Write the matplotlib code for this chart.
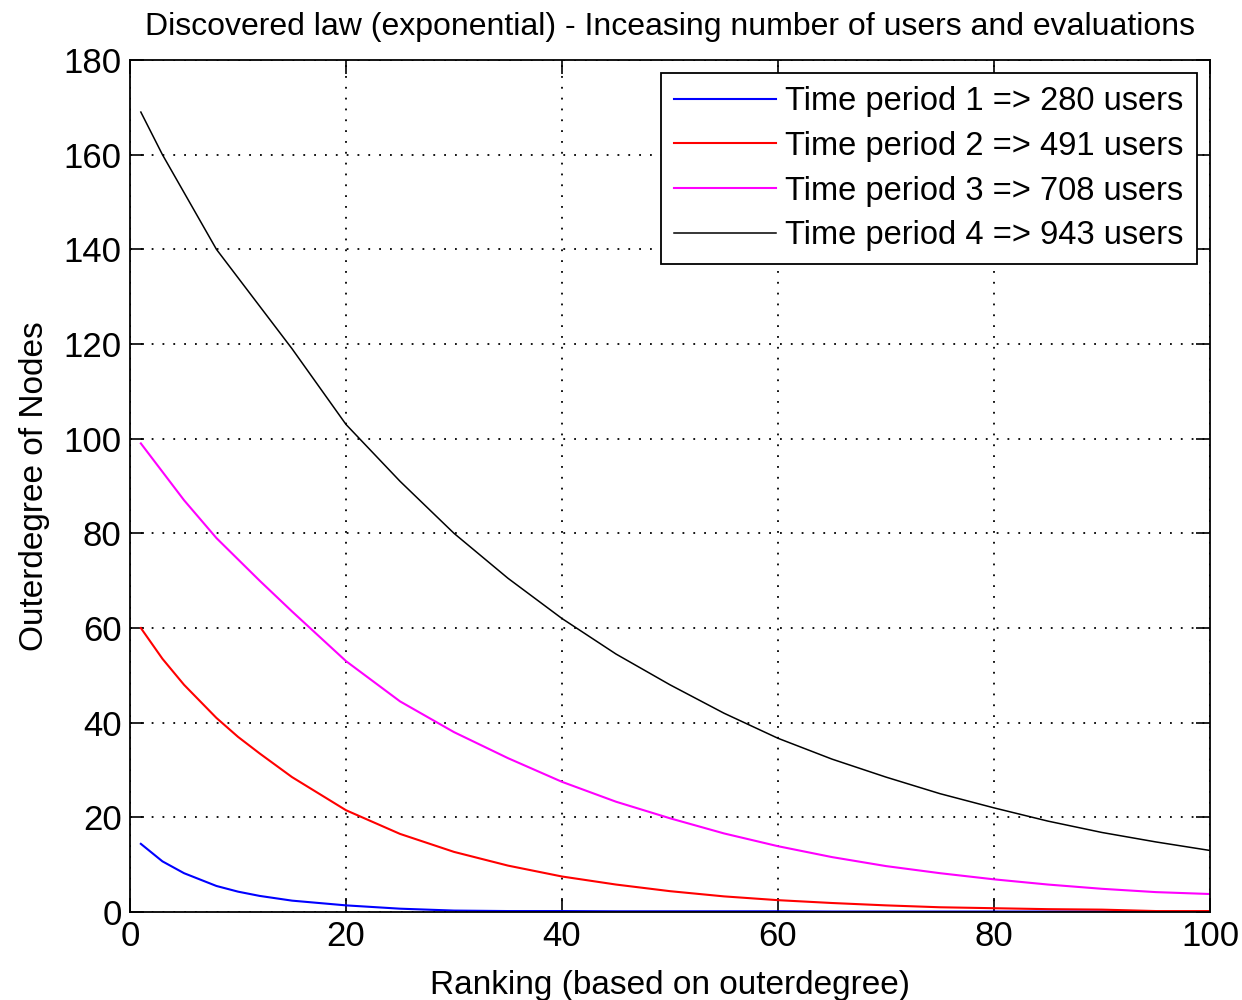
import numpy as np
import matplotlib.pyplot as plt

plt.rcParams['font.family'] = ['Liberation Sans Narrow', 'Liberation Sans', 'DejaVu Sans']

# values
rank = [1, 3, 5, 8, 10, 12, 15, 20, 25, 30, 35, 40, 45, 50, 55, 60, 65, 70, 75, 80, 85, 90, 95, 100]
period1 = [14.4, 10.7, 8.2, 5.5, 4.3, 3.4, 2.4, 1.4, 0.7, 0.3, 0.2, 0.2, 0.15, 0.15, 0.15, 0.15,
           0.1, 0.1, 0.1, 0.1, 0.1, 0.1, 0.0, 0.0]
period2 = [60, 53.5, 48, 41, 37, 33.5, 28.5, 21.5, 16.5, 12.7, 9.8, 7.5, 5.8, 4.4, 3.3, 2.5,
           1.9, 1.4, 1.0, 0.8, 0.6, 0.5, 0.2, 0.2]
period3 = [99, 93, 87, 79, 74.5, 70, 63.5, 53, 44.5, 38, 32.5, 27.5, 23.3, 19.8, 16.6, 13.9,
           11.6, 9.7, 8.2, 6.9, 5.8, 4.9, 4.2, 3.8]
period4 = [169, 160, 152, 140, 134, 128, 119, 103, 91, 80, 70.5, 62, 54.5, 48, 42, 36.7,
           32.3, 28.5, 25, 22, 19.2, 16.8, 14.8, 13]
labels = ['Time period 1 => 280 users', 'Time period 2 => 491 users',
          'Time period 3 => 708 users', 'Time period 4 => 943 users']

fig = plt.figure(figsize=(12.42, 10), dpi=100)
ax = fig.add_axes([0.1047, 0.088, 0.8695, 0.852])

ax.plot(rank, period1, color='#0000ff', lw=1.5, label=labels[0])
ax.plot(rank, period2, color='#ff0000', lw=1.5, label=labels[1])
ax.plot(rank, period3, color='#ff00ff', lw=1.5, label=labels[2])
ax.plot(rank, period4, color='#000000', lw=1.1, label=labels[3])

ax.set_xlim(0, 100)
ax.set_ylim(0, 180)
ax.set_xticks(np.arange(0, 101, 20))
ax.set_yticks(np.arange(0, 181, 20))
ax.grid(True, color='black', linestyle=(0, (1, 5)), linewidth=1.3)
ax.tick_params(direction='in', length=10, width=1.2, top=True, right=True,
               labelsize=25, pad=6)
for s in ax.spines.values():
    s.set_linewidth(1.3)

ax.set_title('Discovered law (exponential) - Inceasing number of users and evaluations',
             fontsize=23, pad=18)
ax.set_xlabel('Ranking (based on outerdegree)', fontsize=24, labelpad=12)
ax.set_ylabel('Outerdegree of Nodes', fontsize=24, labelpad=10)

leg = ax.legend(loc='upper right', fontsize=23.5, fancybox=False, framealpha=1,
                edgecolor='black', borderaxespad=0.4, handlelength=3.1,
                labelspacing=0.42, borderpad=0.4, handletextpad=0.3)
leg.get_frame().set_linewidth(1.3)

fig.savefig('out.png', dpi=100)
